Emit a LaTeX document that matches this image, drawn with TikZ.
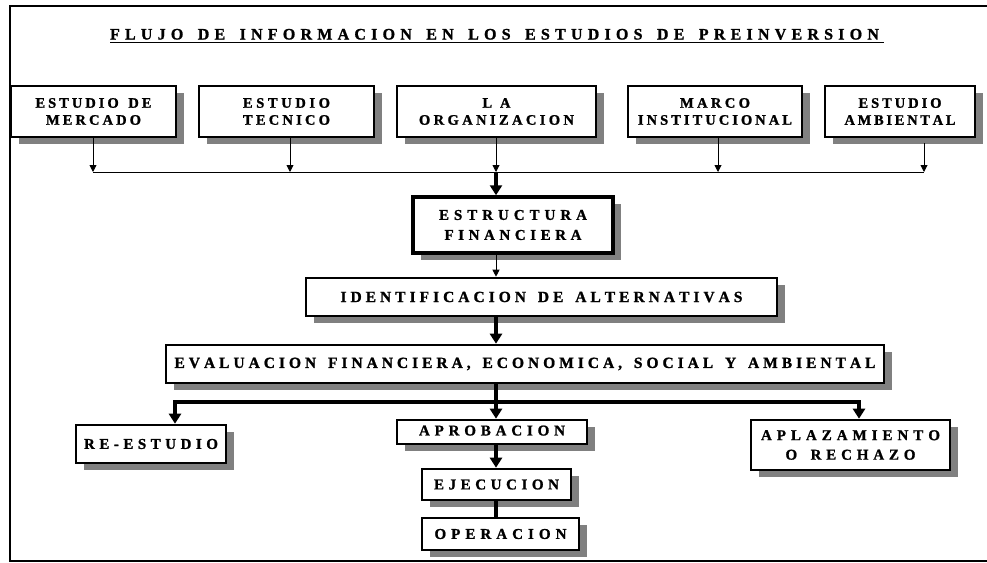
\documentclass[tikz,border=0pt]{standalone}
\usepackage{fontspec}
\setmainfont{Liberation Serif}[BoldFeatures={FakeBold=1.2}]
\usetikzlibrary{arrows.meta}
\definecolor{shadowgray}{RGB}{128,128,128}
\ExplSyntaxOn
\bool_new:N \l_spread_first_bool
\NewDocumentCommand\spread{mm}{
  \hbox_to_wd:nn {#1pt} {
    \bool_set_true:N \l_spread_first_bool
    \str_map_inline:nn {#2}
      { \bool_if:NTF \l_spread_first_bool
          { \bool_set_false:N \l_spread_first_bool }
          { \hfil }
        ##1 }
  }
}
\ExplSyntaxOff
\begin{document}
\begin{tikzpicture}[x=1pt,y=-1pt,
  box/.style={draw, line width=2.6pt, fill=white, inner sep=0pt, align=center,
    font=\bfseries\fontsize{14.5}{17}\selectfont,
    preaction={fill=shadowgray, transform canvas={xshift=8pt,yshift=-7pt}}},
  bigtext/.style={font=\bfseries\fontsize{15.5}{17}\selectfont},
  thinarrow/.style={line width=0.9pt, -{Triangle[width=7pt,length=7pt]}},
  thickarrow/.style={line width=3.5pt, -{Triangle[width=12pt,length=10pt]}},
  thickline/.style={line width=3.5pt}]
\useasboundingbox (0,0) rectangle (987,562);
\draw[line width=1.8pt] (987,6) -- (10,6) -- (10,561) -- (987,561);
% title
\node[anchor=base, inner sep=0pt, font=\bfseries\fontsize{16}{18}\selectfont] (title) at (494.5,39.5) {\spread{769}{FLUJO DE INFORMACION EN LOS ESTUDIOS DE PREINVERSION}};
\draw[line width=1.4pt] (110,42.5) -- (884,42.5);
% top row
\node[box, minimum width=165pt, minimum height=51pt] (b1) at (93.5,111.5) {\spread{116}{ESTUDIO DE}\\\spread{95}{MERCADO}};
\node[box, minimum width=175pt, minimum height=51pt] (b2) at (286.5,111.5) {\spread{87}{ESTUDIO}\\\spread{87}{TECNICO}};
\node[box, minimum width=199pt, minimum height=51pt] (b3) at (496.5,111.5) {\spread{28}{LA}\\\spread{155}{ORGANIZACION}};
\node[box, minimum width=174pt, minimum height=51pt] (b4) at (715,111.5) {\spread{70}{MARCO}\\\spread{154}{INSTITUCIONAL}};
\node[box, minimum width=150pt, minimum height=51pt] (b5) at (900,111.5) {\spread{83}{ESTUDIO}\\\spread{111}{AMBIENTAL}};
% bus
\coordinate (busL) at (93,172);
\coordinate (bus2) at (290,172);
\coordinate (busM) at (496,172);
\coordinate (bus4) at (718,172);
\coordinate (busR) at (924,172);
\coordinate (b5out) at (924,143);
\draw[line width=0.9pt] (busL) -- (busR);
\draw[thinarrow] (b1.south -| busL) -- (busL);
\draw[thinarrow] (b2.south -| bus2) -- (bus2);
\draw[thinarrow] (b3.south -| busM) -- (busM);
\draw[thinarrow] (b4.south -| bus4) -- (bus4);
\draw[thinarrow] (b5out) -- (busR);
% middle
\node[box, line width=3.5pt, minimum width=200pt, minimum height=56pt, font=\bfseries\fontsize{15}{20}\selectfont] (ef) at (513,225) {\spread{148}{ESTRUCTURA}\\\spread{137}{FINANCIERA}};
\node[box, bigtext, minimum width=471pt, minimum height=38pt] (ia) at (541.5,297) {\spread{402}{IDENTIFICACION DE ALTERNATIVAS}};
\node[box, bigtext, minimum width=718pt, minimum height=38pt] (ev) at (525,364) {\spread{701}{EVALUACION FINANCIERA, ECONOMICA, SOCIAL Y AMBIENTAL}};
\draw[thickarrow] (busM) -- (busM |- ef.north);
\draw[thinarrow] (busM |- ef.south) -- (busM |- ia.north);
\draw[thickarrow] (busM |- ia.south) -- (busM |- ev.north);
% bottom
\node[box, font=\bfseries\fontsize{15}{17}\selectfont, minimum width=150pt, minimum height=38pt] (re) at (151,444) {\spread{134}{RE-ESTUDIO}};
\node[box, font=\bfseries\fontsize{15}{17}\selectfont, minimum width=190pt, minimum height=24pt] (ap) at (492,432) {\raisebox{3pt}{\spread{146}{APROBACION}}};
\node[box, font=\bfseries\fontsize{15}{17}\selectfont, minimum width=149pt, minimum height=31pt] (ej) at (496.5,484.5) {\spread{125}{EJECUCION}};
\node[box, font=\bfseries\fontsize{15}{17}\selectfont, minimum width=157pt, minimum height=32pt] (op) at (500.5,534) {\spread{132}{OPERACION}};
\node[box, font=\bfseries\fontsize{15}{19.5}\selectfont, minimum width=199pt, minimum height=50pt] (az) at (850.5,445) {\spread{179}{APLAZAMIENTO}\\\spread{130}{O RECHAZO}};
\coordinate (brL) at (175,402);
\coordinate (brM) at (496,402);
\coordinate (brR) at (859,402);
\draw[thickline] (busM |- ev.south) -- (brM);
\draw[thickarrow] (brM) -- (brL) -- (brL |- re.north);
\draw[thickarrow] (brM) -- (brR) -- (brR |- az.north);
\draw[thickarrow] (brM) -- (brM |- ap.north);
\draw[thickarrow] (brM |- ap.south) -- (brM |- ej.north);
\draw[thickline] (brM |- ej.south) -- (brM |- op.north);
\end{tikzpicture}
\end{document}
